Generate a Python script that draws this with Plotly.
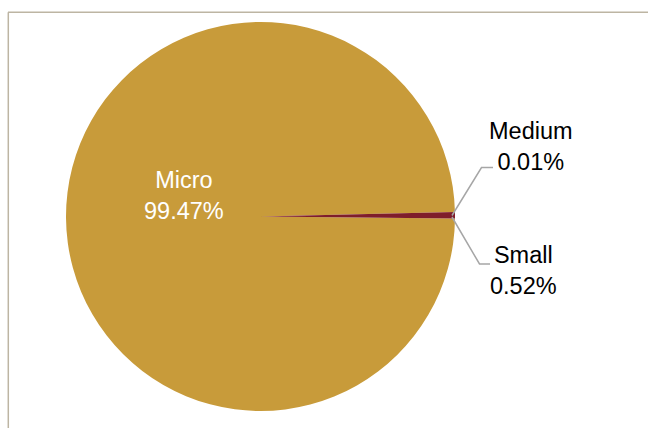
import plotly.graph_objects as go

# enterprise size shares (%)
sizes = ["Micro", "Small", "Medium"]
shares = [99.47, 0.52, 0.01]
slice_colors = ["#C89B3A", "#7F1D2B", "#5A5A5A"]

W, H = 648, 428


def px(x):
    return x / W


def py(y):
    return 1 - y / H


fig = go.Figure(go.Pie(
    labels=sizes,
    values=shares,
    sort=False,
    direction="clockwise",
    rotation=90.6,
    marker=dict(colors=slice_colors, line=dict(width=0)),
    textinfo="none",
    hoverinfo="label+percent",
    domain=dict(x=[px(66), px(455)], y=[py(411), py(22)]),
    showlegend=False,
))

# labels for each slice
label_pos = {"Micro": (184, 196, "white"),
             "Medium": (531, 146, "black"),
             "Small": (523.5, 270, "black")}
for name, val in zip(sizes, shares):
    x, y, col = label_pos[name]
    fig.add_annotation(
        x=px(x), y=py(y), xref="paper", yref="paper",
        xanchor="center", yanchor="middle",
        text=f"{name}<br>{val:.2f}%", showarrow=False,
        font=dict(family="Liberation Sans, Arial", size=23.5, color=col),
        align="center",
    )

# leader lines to the outside labels
leader = dict(color="#A6A6A6", width=1.5)
fig.add_shape(type="path", xref="paper", yref="paper", line=leader,
              path=f"M {px(452)} {py(215.5)} L {px(481.5)} {py(167.5)} L {px(493)} {py(167.5)}")
fig.add_shape(type="path", xref="paper", yref="paper", line=leader,
              path=f"M {px(452)} {py(217)} L {px(479.5)} {py(264)} L {px(490)} {py(264)}")

# chart area border (top and left edges visible)
frame = dict(color="#BDB5A3", width=1.5)
fig.add_shape(type="line", xref="paper", yref="paper", line=frame,
              x0=px(8), y0=py(12.3), x1=1, y1=py(12.3))
fig.add_shape(type="line", xref="paper", yref="paper", line=frame,
              x0=px(8.3), y0=py(12.3), x1=px(8.3), y1=0)

fig.update_layout(
    width=W, height=H,
    margin=dict(l=0, r=0, t=0, b=0),
    paper_bgcolor="white",
    plot_bgcolor="white",
)

fig.write_html("out.html", config={"displayModeBar": False},
               post_script="document.body.style.margin = '0';")
